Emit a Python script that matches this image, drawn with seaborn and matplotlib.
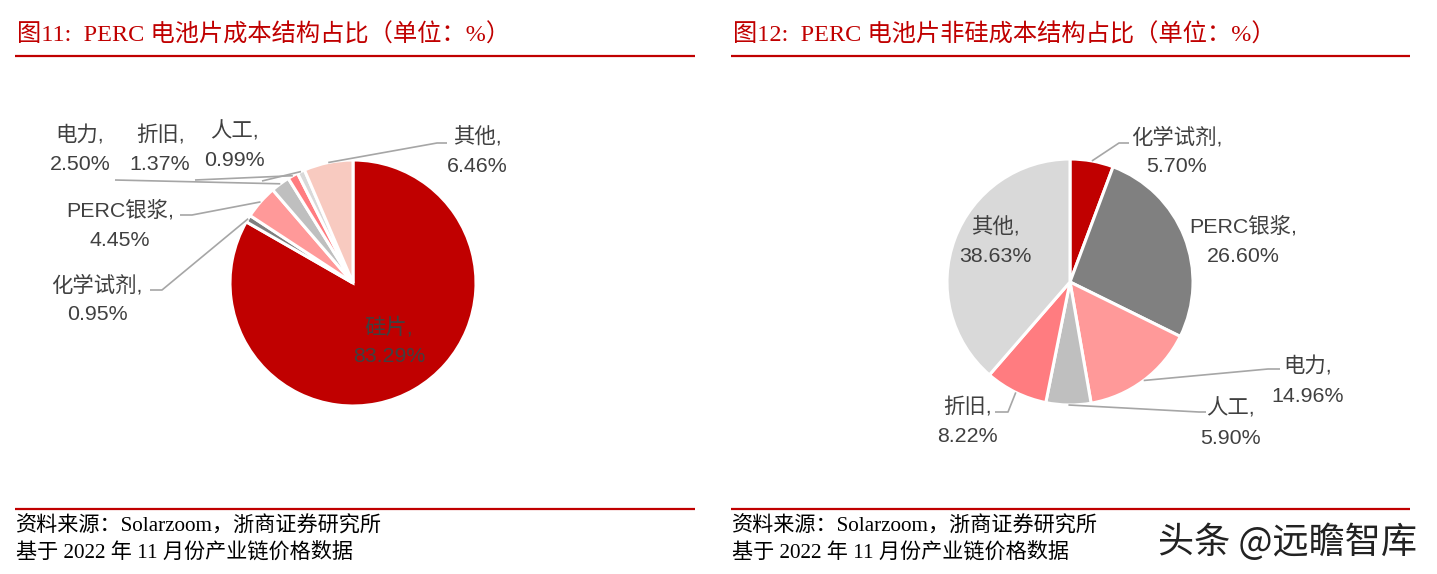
import matplotlib
matplotlib.use("Agg")
import matplotlib.pyplot as plt
import seaborn as sns
import numpy as np

# ---------------- data ----------------
left_labels = ["硅片", "化学试剂", "PERC银浆", "电力", "折旧", "人工", "其他"]
left_values = [83.29, 0.95, 4.45, 2.50, 1.37, 0.99, 6.46]
left_colors = ["#C00000", "#7F7F7F", "#FF9999", "#BFBFBF", "#FF7C80", "#D9D9D9", "#F8CAC0"]

right_labels = ["化学试剂", "PERC银浆", "电力", "人工", "折旧", "其他"]
right_values = [5.70, 26.60, 14.96, 5.90, 8.22, 38.63]
right_colors = ["#C00000", "#808080", "#FF9999", "#BFBFBF", "#FF7C80", "#D9D9D9"]

left_title = "图11:  PERC 电池片成本结构占比（单位：%）"
right_title = "图12:  PERC 电池片非硅成本结构占比（单位：%）"
source_line1 = "资料来源：Solarzoom，浙商证券研究所"
source_line2 = "基于 2022 年 11 月份产业链价格数据"
watermark = "头条 @远瞻智库"

# ---------------- style ----------------
sns.set_theme(style="white")
plt.rcParams["font.family"] = ["Liberation Sans", "Noto Sans CJK SC", "DejaVu Sans"]

W, H = 1437, 574
fig = plt.figure(figsize=(W / 100, H / 100), dpi=100)
ax = fig.add_axes([0, 0, 1, 1])

RED = "#C00000"
LINE = "#A6A6A6"
TXT = "#404040"
LABEL_FONT = ["Liberation Sans", "Noto Sans CJK SC"]
SERIF_FONT = ["Liberation Serif", "Noto Sans CJK SC"]


def fy(y):
    return H - y


R = 123
left_center = (353, fy(283))
right_center = (1070, fy(282))

wl, _ = ax.pie(left_values, colors=sns.color_palette(left_colors), startangle=90,
               counterclock=False, center=left_center, radius=R,
               wedgeprops=dict(edgecolor="white", linewidth=2.2))
wr, _ = ax.pie(right_values, colors=sns.color_palette(right_colors), startangle=90,
               counterclock=False, center=right_center, radius=R,
               wedgeprops=dict(edgecolor="white", linewidth=2.2))


def edge_point(w, center, frac=1.0):
    mid = np.deg2rad((w.theta1 + w.theta2) / 2)
    return center[0] + R * frac * np.cos(mid), center[1] + R * frac * np.sin(mid)


def label(x, y, name, val, gap=30, fs=15.4):
    ax.text(x, fy(y), f"{name},", ha="center", va="center", fontsize=fs,
            color=TXT, family=LABEL_FONT)
    ax.text(x, fy(y + gap), f"{val:.2f}%", ha="center", va="center", fontsize=fs,
            color=TXT, family=LABEL_FONT)


def leader(w, center, pts, frac=1.0):
    ex, ey = edge_point(w, center, frac)
    xs = [p[0] for p in pts] + [ex]
    ys = [fy(p[1]) for p in pts] + [ey]
    ax.plot(xs, ys, color=LINE, lw=1.2, solid_capstyle="butt")


# ---- left pie labels ----
lpos = {
    "硅片": (389, 327),
    "化学试剂": (97, 285),
    "PERC银浆": (120, 210),
    "电力": (80, 135),
    "折旧": (160, 135),
    "人工": (234, 131),
    "其他": (477, 137),
}
for w, name, val in zip(wl, left_labels, left_values):
    x, y = lpos[name]
    label(x, y, name, val)

lleaders = {
    "化学试剂": [(150, 290), (162, 290)],
    "PERC银浆": [(180, 215), (192, 215)],
    "电力": [(115, 180)],
    "折旧": [(195, 180)],
    "人工": [(262, 181)],
    "其他": [(447, 143), (437, 143)],
}
for w, name in zip(wl, left_labels):
    if name in lleaders:
        leader(w, left_center, lleaders[name])

# ---- right pie labels ----
rpos = {
    "化学试剂": (1177, 137),
    "PERC银浆": (1243, 226),
    "电力": (1308, 366),
    "人工": (1230, 408),
    "折旧": (967, 407),
    "其他": (995, 227),
}
for w, name, val in zip(wr, right_labels, right_values):
    x, y = rpos[name]
    label(x, y, name, val)

rleaders = {
    "化学试剂": [(1129, 143), (1119, 143)],
    "电力": [(1280, 369), (1268, 369)],
    "人工": [(1206, 412), (1199, 412)],
    "折旧": [(995, 412), (1008, 412)],
}
for w, name in zip(wr, right_labels):
    if name in rleaders:
        leader(w, right_center, rleaders[name])

# ---- titles, rules, sources ----
for x0, x1, title in [(15, 695, left_title), (731, 1410, right_title)]:
    ax.text(x0 + 2, fy(35), title, ha="left", va="center", fontsize=17.5,
            color=RED, family=SERIF_FONT)
    ax.plot([x0, x1], [fy(56), fy(56)], color=RED, lw=1.6, solid_capstyle="butt")
    ax.plot([x0, x1], [fy(509), fy(509)], color=RED, lw=1.6, solid_capstyle="butt")
    ax.text(x0 + 1, fy(527), source_line1, ha="left", va="center", fontsize=15.2,
            color="black", family=SERIF_FONT)
    ax.text(x0 + 1, fy(553), source_line2, ha="left", va="center", fontsize=15.2,
            color="black", family=SERIF_FONT)

ax.text(1288, fy(542), watermark, ha="center", va="center", fontsize=26,
        color="#222222", family=["Noto Sans CJK SC"])

ax.set_xlim(0, W)
ax.set_ylim(0, H)
ax.set_aspect("auto")
ax.axis("off")

fig.savefig("out.png", dpi=100, facecolor="white")
